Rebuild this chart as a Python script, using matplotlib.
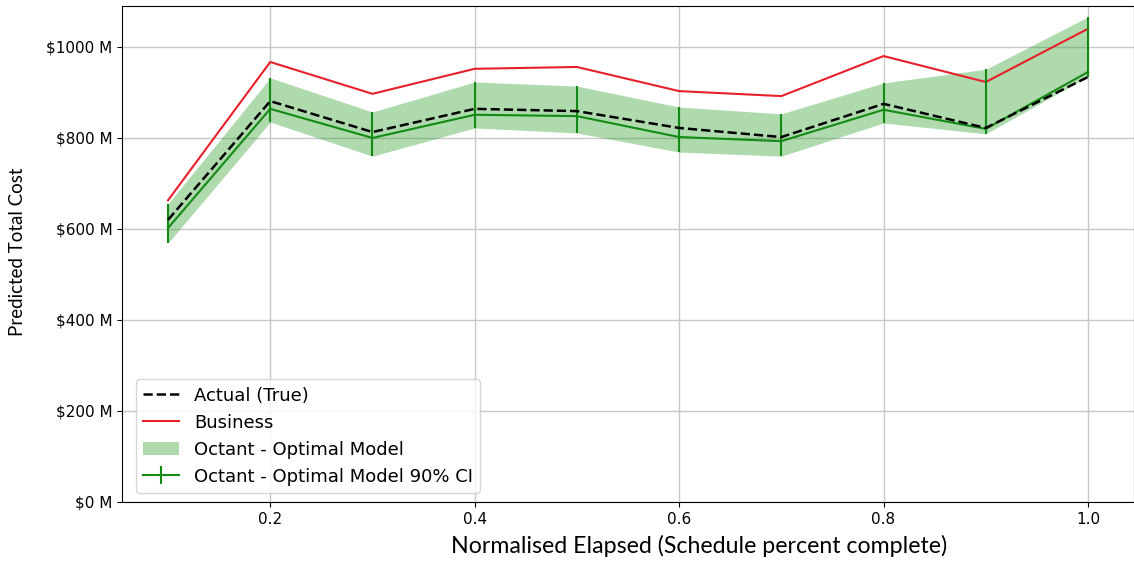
import numpy as np
import matplotlib
matplotlib.use('Agg')
import matplotlib.pyplot as plt
from matplotlib.ticker import FuncFormatter

# normalised elapsed (schedule percent complete)
elapsed = [0.1, 0.2, 0.3, 0.4, 0.5, 0.6, 0.7, 0.8, 0.9, 1.0]
# predicted total cost, $M
actual = [620, 881, 813, 864, 859, 822, 802, 875, 822, 934]
business = [663, 967, 897, 952, 956, 903, 892, 980, 923, 1040]
model = [602, 864, 800, 851, 848, 802, 793, 862, 820, 945]
ci_low = [569, 835, 760, 822, 811, 769, 760, 833, 809, 935]
ci_high = [655, 932, 857, 923, 914, 868, 853, 921, 951, 1066]

x = np.array(elapsed)
m = np.array(model)
lo = np.array(ci_low)
hi = np.array(ci_high)

fig = plt.figure(figsize=(11.34, 5.72), dpi=100)
ax = fig.add_axes([0.1076, 0.1224, 0.8924, 0.8671])

ax.plot(x, actual, 'k--', lw=1.8, label='Actual (True)', zorder=4)
ax.plot(x, business, color='#e8202a', lw=1.5, label='Business', zorder=3)
ax.fill_between(x, lo, hi, color='#2ca02c', alpha=0.38, lw=0,
                label='Octant - Optimal Model', zorder=2)
ax.errorbar(x, m, yerr=[m - lo, hi - m], color='#138a13', lw=1.5,
            elinewidth=1.5, capsize=0, label='Octant - Optimal Model 90% CI', zorder=3)

ax.set_ylim(0, 1090)
ax.set_yticks([0, 200, 400, 600, 800, 1000])
ax.yaxis.set_major_formatter(FuncFormatter(lambda v, p: r'\$%d M' % v))
ax.set_xticks([0.2, 0.4, 0.6, 0.8, 1.0])
ax.tick_params(labelsize=11)
ax.grid(True, color='#c8c8c8', lw=1)
ax.set_axisbelow(True)

ax.set_xlabel('Normalised Elapsed (Schedule percent complete)', fontsize=16.7,
              family='Lato')
ax.xaxis.set_label_coords(0.570, -0.066)
ax.set_ylabel('Predicted Total Cost', fontsize=13.5, family='Lato')
ax.yaxis.set_label_coords(-0.095, 0.504)

ax.legend(loc='lower left', bbox_to_anchor=(0.005, 0.0), fontsize=13,
          framealpha=0.8)

fig.savefig('out.png', dpi=100)
